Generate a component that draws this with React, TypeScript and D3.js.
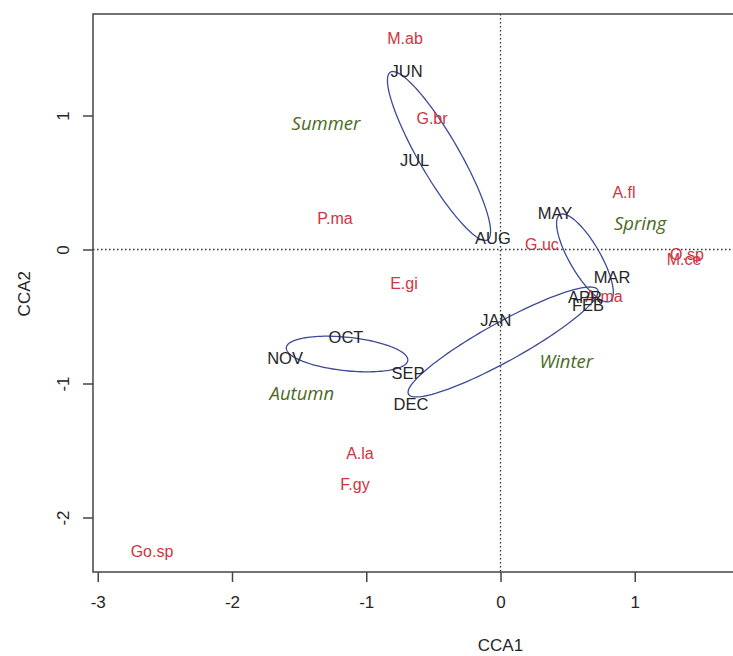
import React, { useEffect, useRef } from 'react';
import * as d3 from 'd3';

// month (site) scores
const months = ['JUN', 'JUL', 'AUG', 'MAY', 'MAR', 'APR', 'FEB', 'JAN', 'OCT', 'NOV', 'SEP', 'DEC'];
const monthCCA1 = [-0.7, -0.64, -0.056, 0.406, 0.831, 0.629, 0.652, -0.034, -1.151, -1.605, -0.689, -0.667];
const monthCCA2 = [1.332, 0.668, 0.086, 0.272, -0.205, -0.354, -0.414, -0.526, -0.653, -0.81, -0.922, -1.153];

// species scores
const species = ['M.ab', 'G.br', 'P.ma', 'A.fl', 'G.uc', 'E.gi', 'O.sp', 'M.ce', 'A.ma', 'A.la', 'F.gy', 'Go.sp'];
const speciesCCA1 = [-0.711, -0.51, -1.233, 0.92, 0.309, -0.719, 1.389, 1.367, 0.771, -1.047, -1.084, -2.596];
const speciesCCA2 = [1.578, 0.981, 0.228, 0.422, 0.034, -0.257, -0.041, -0.078, -0.354, -1.519, -1.75, -2.25];

// season labels
const seasons = ['Summer', 'Spring', 'Winter', 'Autumn'];
const seasonCCA1 = [-1.3, 1.04, 0.49, -1.48];
const seasonCCA2 = [0.95, 0.205, -0.825, -1.07];

// season ellipses (centre, semi axes, rotation in degrees)
const ellipseCX = [-0.458, 0.629, 0.019, -1.143];
const ellipseCY = [0.698, -0.063, -0.69, -0.78];
const ellipseA = [0.723, 0.373, 0.805, 0.455];
const ellipseB = [0.15, 0.115, 0.145, 0.125];
const ellipseAngle = [-60, -60, 29, -6];

const xTicks = [-3, -2, -1, 0, 1];
const yTicks = [-2, -1, 0, 1];

export default function App() {
  const ref = useRef<SVGGElement>(null);

  useEffect(() => {
    const g = d3.select(ref.current);
    g.selectAll('*').remove();

    const frame = { left: 93, top: 14, right: 745, bottom: 572 };

    const x = d3.scaleLinear().domain([-3, 1]).range([97.75, 634.75]);
    const y = d3.scaleLinear().domain([-2, 1]).range([517.5, 115.5]);

    const red = '#cf3442';
    const dark = '#262626';
    const sans = 'Liberation Sans, Arial, sans-serif';

    // dotted zero lines
    g.append('line')
      .attr('x1', frame.left)
      .attr('x2', frame.right)
      .attr('y1', y(0))
      .attr('y2', y(0))
      .attr('stroke', '#333')
      .attr('stroke-width', 1.3)
      .attr('stroke-dasharray', '1.5,2.5');
    g.append('line')
      .attr('x1', x(0))
      .attr('x2', x(0))
      .attr('y1', frame.top)
      .attr('y2', frame.bottom)
      .attr('stroke', '#333')
      .attr('stroke-width', 1.3)
      .attr('stroke-dasharray', '1.5,2.5');

    // frame
    g.append('rect')
      .attr('x', frame.left)
      .attr('y', frame.top)
      .attr('width', frame.right - frame.left)
      .attr('height', frame.bottom - frame.top)
      .attr('fill', 'none')
      .attr('stroke', '#444')
      .attr('stroke-width', 1.5);

    // axes
    const xAxis = d3
      .axisBottom(x)
      .tickValues(xTicks)
      .tickFormat(d => String(d))
      .tickSize(10)
      .tickSizeOuter(0)
      .tickPadding(14);
    const xg = g.append('g').attr('transform', `translate(0, ${frame.bottom})`).call(xAxis);
    xg.select('.domain').remove();
    xg.selectAll('line').attr('stroke', '#444').attr('stroke-width', 1.5);
    xg.selectAll('text')
      .attr('font-family', sans)
      .attr('font-size', 17)
      .attr('fill', dark);

    const yAxis = d3
      .axisLeft(y)
      .tickValues(yTicks)
      .tickFormat(d => String(d))
      .tickSize(10)
      .tickSizeOuter(0);
    const yg = g.append('g').attr('transform', `translate(${frame.left}, 0)`).call(yAxis);
    yg.select('.domain').remove();
    yg.selectAll('line').attr('stroke', '#444').attr('stroke-width', 1.5);
    yg.selectAll('text')
      .attr('x', 0)
      .attr('dy', null)
      .attr('text-anchor', 'middle')
      .attr('dominant-baseline', 'central')
      .attr('transform', 'translate(-30, 0) rotate(-90)')
      .attr('font-family', sans)
      .attr('font-size', 17)
      .attr('fill', dark);

    // axis titles
    g.append('text')
      .attr('x', x(0))
      .attr('y', 651)
      .attr('text-anchor', 'middle')
      .attr('font-family', sans)
      .attr('font-size', 17)
      .attr('fill', dark)
      .text('CCA1');
    g.append('text')
      .attr('transform', `translate(24, ${y(-0.33)}) rotate(-90)`)
      .attr('text-anchor', 'middle')
      .attr('dominant-baseline', 'central')
      .attr('font-family', sans)
      .attr('font-size', 17)
      .attr('fill', dark)
      .text('CCA2');

    // ellipses
    const line = d3
      .line<[number, number]>()
      .x(d => x(d[0]))
      .y(d => y(d[1]))
      .curve(d3.curveLinearClosed);
    ellipseCX.forEach((cx, i) => {
      const rot = (ellipseAngle[i] * Math.PI) / 180;
      const pts: [number, number][] = d3.range(0, 360, 3).map(deg => {
        const t = (deg * Math.PI) / 180;
        const ex = ellipseA[i] * Math.cos(t);
        const ey = ellipseB[i] * Math.sin(t);
        return [cx + ex * Math.cos(rot) - ey * Math.sin(rot), ellipseCY[i] + ex * Math.sin(rot) + ey * Math.cos(rot)];
      });
      g.append('path')
        .attr('d', line(pts))
        .attr('fill', 'none')
        .attr('stroke', '#3e4a98')
        .attr('stroke-width', 1.3);
    });

    // species labels
    g.selectAll('.sp')
      .data(species)
      .enter()
      .append('text')
      .attr('x', (d, i) => x(speciesCCA1[i]))
      .attr('y', (d, i) => y(speciesCCA2[i]))
      .attr('text-anchor', 'middle')
      .attr('dominant-baseline', 'central')
      .attr('font-family', sans)
      .attr('font-size', 16)
      .attr('fill', red)
      .text(d => d);

    // month labels
    g.selectAll('.mo')
      .data(months)
      .enter()
      .append('text')
      .attr('x', (d, i) => x(monthCCA1[i]))
      .attr('y', (d, i) => y(monthCCA2[i]))
      .attr('text-anchor', 'middle')
      .attr('dominant-baseline', 'central')
      .attr('font-family', sans)
      .attr('font-size', 16.5)
      .attr('fill', dark)
      .text(d => d);

    // season labels
    g.selectAll('.se')
      .data(seasons)
      .enter()
      .append('text')
      .attr('x', (d, i) => x(seasonCCA1[i]))
      .attr('y', (d, i) => y(seasonCCA2[i]))
      .attr('text-anchor', 'middle')
      .attr('dominant-baseline', 'central')
      .attr('font-family', 'Open Sans, DejaVu Sans, sans-serif')
      .attr('font-style', 'italic')
      .attr('font-size', 18.5)
      .attr('fill', '#4b6a23')
      .text(d => d);
  }, []);

  return (
    <svg
      width={733}
      height={656}
      style={{ position: 'absolute', left: 0, top: 0, background: '#fff' }}
    >
      <g ref={ref} />
    </svg>
  );
}
